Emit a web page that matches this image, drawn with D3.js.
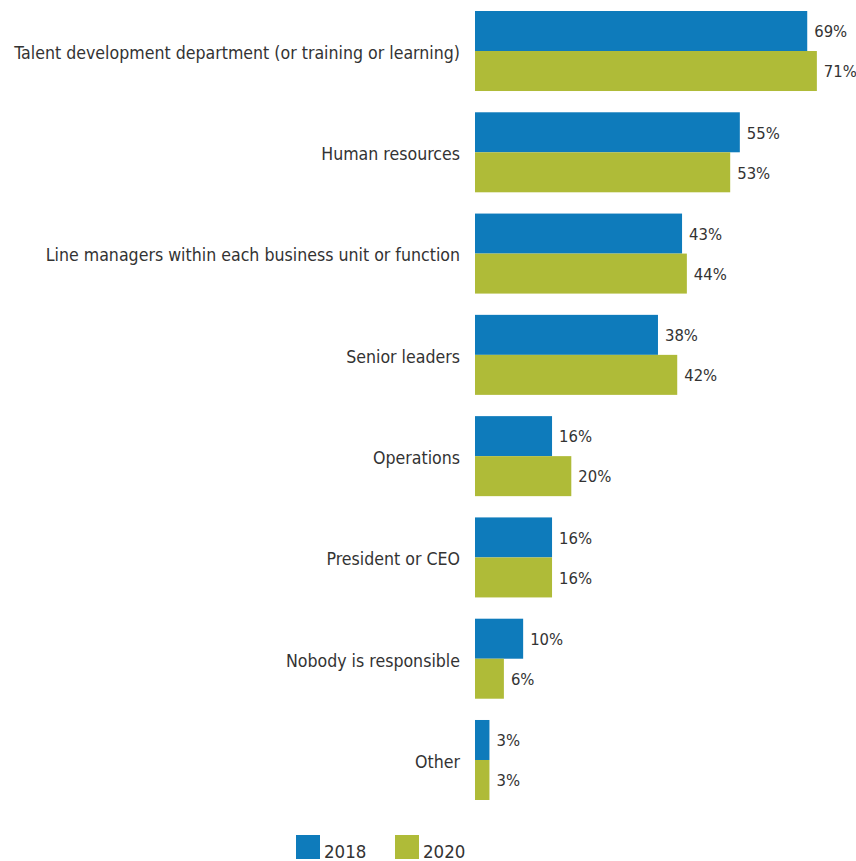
<!DOCTYPE html>
<html>
<head>
<meta charset="utf-8">
<script src="https://cdn.jsdelivr.net/npm/d3@7"></script>
<style>
  body { margin: 0; background: #fff; }
  svg { display: block; }
  text { font-family: "DejaVu Sans Condensed", "Liberation Sans Narrow", "Open Sans", sans-serif; fill: #333; }
</style>
</head>
<body>
<svg id="chart" width="856" height="861"></svg>
<script>
const categories = [
  "Talent development department (or training or learning)",
  "Human resources",
  "Line managers within each business unit or function",
  "Senior leaders",
  "Operations",
  "President or CEO",
  "Nobody is responsible",
  "Other"
];
const seriesNames = ["2018", "2020"];
const values2018 = [69, 55, 43, 38, 16, 16, 10, 3];
const values2020 = [71, 53, 44, 42, 20, 16, 6, 3];
const colors = ["#0e7bbb", "#afbb38"];

const svg = d3.select("#chart");

const x = d3.scaleLinear().domain([0, 100]).range([475, 956.5]);
const y = d3.scaleBand().domain(categories).range([11, 800]).paddingInner(0.21).paddingOuter(0);
const sub = d3.scaleBand().domain(seriesNames).range([0, y.bandwidth()]);

const rows = categories.map((c, i) => ({ cat: c, vals: [values2018[i], values2020[i]] }));

const g = svg.selectAll("g.row").data(rows).join("g")
  .attr("class", "row")
  .attr("transform", d => `translate(0,${y(d.cat)})`);

g.selectAll("rect").data(d => d.vals.map((v, j) => ({ v, s: seriesNames[j], j }))).join("rect")
  .attr("x", x(0))
  .attr("y", d => sub(d.s))
  .attr("width", d => x(d.v) - x(0))
  .attr("height", sub.bandwidth())
  .attr("fill", d => colors[d.j]);

g.selectAll("text.val").data(d => d.vals.map((v, j) => ({ v, s: seriesNames[j] }))).join("text")
  .attr("class", "val")
  .attr("x", d => x(d.v) + 7)
  .attr("y", d => sub(d.s) + sub.bandwidth() / 2)
  .attr("dy", "0.38em")
  .attr("font-size", 16.5)
  .text(d => d.v + "%");

g.append("text")
  .attr("x", 460)
  .attr("y", y.bandwidth() / 2)
  .attr("dy", "0.45em")
  .attr("text-anchor", "end")
  .attr("font-size", 17.6)
  .text(d => d.cat);

// legend
const legend = svg.append("g");
const lx = [296, 395];
seriesNames.forEach((s, j) => {
  legend.append("rect").attr("x", lx[j]).attr("y", 835).attr("width", 24).attr("height", 24).attr("fill", colors[j]);
  legend.append("text").attr("x", lx[j] + 28).attr("y", 858).attr("font-size", 18.5).text(s);
});
</script>
</body>
</html>
